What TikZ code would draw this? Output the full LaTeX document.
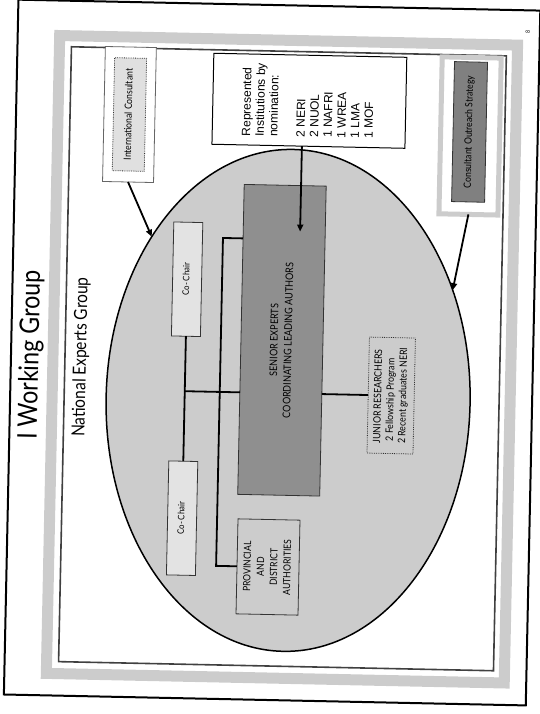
\documentclass[tikz,border=0pt]{standalone}
\usepackage{graphicx}
\usepackage{fontspec}
\setmainfont{Lato}[FakeStretch=0.86]
\newfontfamily\arialfont{Liberation Sans}
\usetikzlibrary{shapes.geometric, arrows.meta}

\definecolor{bandgray}{gray}{0.8}
\definecolor{ovalgray}{gray}{0.8}
\definecolor{seniorgray}{gray}{0.56}
\definecolor{chairgray}{gray}{0.89}
\definecolor{outreachgray}{gray}{0.5}

\newcommand{\vtext}[1]{\rotatebox{90}{\begin{tabular}{@{}c@{}}#1\end{tabular}}}
\newcommand{\vtextl}[1]{\rotatebox{90}{\begin{tabular}{@{}l@{}}#1\end{tabular}}}

\begin{document}
\begin{tikzpicture}[x=1pt, y=-1pt,
    framebox/.style={draw=black!80, line width=0.8pt, inner sep=0pt, outer sep=0pt},
    link/.style={line width=1.8pt},
    arr/.style={line width=1.8pt, -{Triangle[length=7pt, width=6pt]}}]
\useasboundingbox (0,0) rectangle (539,714);
\begin{scope}[rotate around={-1.2:(270,357)}, transform shape]
% page and slide frame
\draw[line width=2pt] (11,5) rectangle (533,700);
\draw[bandgray, line width=11pt] (53,40) rectangle (511,678);
\draw[black!75, line width=1.6pt] (65,51) rectangle (500,666);
\node[rotate=90, inner sep=0pt, font=\fontsize{27}{29}\selectfont] (title) at (31,360) {I Working Group};
\node[rotate=90, inner sep=0pt, font=\fontsize{18}{20}\selectfont] (natgroup) at (81,361) {National Experts Group};
\node[rotate=90, inner sep=0pt, font=\fontsize{6}{7}\selectfont] (pagenum) at (521,27) {8};

% boxes hanging from the top
\node[framebox, draw=black!60, fill=white, minimum width=51, minimum height=135] (intcons) at (124.4,117.5) {};
\node[framebox, densely dotted, fill=black!12, minimum width=32, minimum height=113,
    font=\fontsize{10}{12}\selectfont] (intconsin) at (intcons) {\vtext{International Consultant}};
\node[framebox, draw=black, line width=1pt, fill=white, minimum width=193, minimum height=91,
    font=\arialfont\fontsize{12}{13.6}\selectfont] (repbox) at (304,100)
    {\vtextl{Represented\\Institutions by\\nomination:\\ \\2 NERI\\2 NUOL\\1 NAFRI\\1 WREA\\1 LMA\\1 MOF}};
\node[framebox, draw=bandgray, line width=5pt, fill=white, minimum width=59, minimum height=157] (outreach) at (465.4,131.8) {};
\node[framebox, fill=outreachgray, minimum width=33, minimum height=140,
    font=\fontsize{10}{12}\selectfont] (outreachin) at (464.8,127.8) {\vtext{Consultant Outreach Strategy}};

% the national experts oval
\node[ellipse, draw, line width=1.5pt, fill=ovalgray, minimum width=364, minimum height=502,
    inner sep=0pt, outer sep=0pt] (experts) at (289,400) {};

\node[framebox, fill=seniorgray, minimum width=82, minimum height=310,
    font=\fontsize{10.5}{14}\selectfont] (senior) at (281.6,340) {\vtext{SENIOR EXPERTS\\COORDINATING LEADING AUTHORS}};
\node[framebox, fill=chairgray, minimum width=29, minimum height=114,
    font=\fontsize{9}{11}\selectfont] (chairtop) at (185.5,281) {\vtext{Co- Chair}};
\node[framebox, fill=chairgray, minimum width=29, minimum height=114,
    font=\fontsize{9}{11}\selectfont] (chairbot) at (185.5,520) {\vtext{Co- Chair}};
\node[framebox, densely dotted, fill=ovalgray, minimum width=46, minimum height=116,
    font=\fontsize{10.2}{12.5}\selectfont] (junior) at (392,393)
    {\vtextl{JUNIOR RESEARCHERS\\ \ 2 Fellowship Program\\2 Recent graduates NERI}};
\node[framebox, fill=ovalgray, minimum width=62, minimum height=95,
    font=\fontsize{10}{13.3}\selectfont] (province) at (272.4,567) {\vtext{PROVINCIAL\\AND\\DISTRICT\\AUTHORITIES}};

% connectors
\coordinate (bend) at (220.5,239);
\coordinate (reptip) at (297.5,231);
\draw[link] (chairtop.south) -- (chairbot.north);
\draw[link] (chairtop.south |- junior.west) -- (senior.west |- junior.west);
\draw[link] (senior.east |- junior.west) -- (junior.west);
\draw[link] (senior.west |- bend) -- (bend) |- (province.west);
\draw[arr] (repbox.south -| reptip) -- (reptip);
\draw[arr] (intcons.south) -- (experts.131);
\draw[arr] (outreach.south) -- (experts.35);
\end{scope}
\end{tikzpicture}
\end{document}
